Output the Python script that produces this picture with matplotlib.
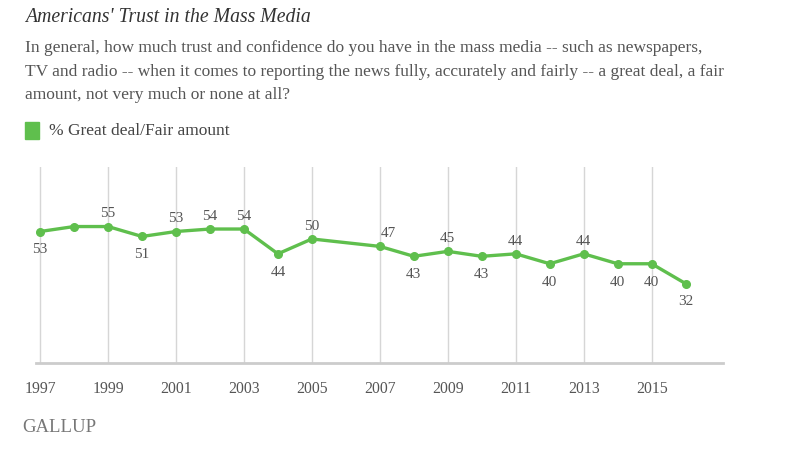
import matplotlib
matplotlib.use("Agg")
import matplotlib.pyplot as plt
from matplotlib.patches import Rectangle

years = [1997, 1998, 1999, 2000, 2001, 2002, 2003, 2004, 2005, 2007,
         2008, 2009, 2010, 2011, 2012, 2013, 2014, 2015, 2016]
values = [53, 55, 55, 51, 53, 54, 54, 44, 50, 47,
          43, 45, 43, 44, 40, 44, 40, 40, 32]
# label placement: 'a' above, 'b' below, '' none
label_pos = ['b', '', 'a', 'b', 'a', 'a', 'a', 'b', 'a', 'a',
             'b', 'a', 'b', 'a', 'b', 'a', 'b', 'b', 'b']
tick_years = [1997, 1999, 2001, 2003, 2005, 2007, 2009, 2011, 2013, 2015]

title = "Americans' Trust in the Mass Media"
subtitle = ["In general, how much trust and confidence do you have in the mass media -- such as newspapers,",
            "TV and radio -- when it comes to reporting the news fully, accurately and fairly -- a great deal, a fair",
            "amount, not very much or none at all?"]
legend_label = "% Great deal/Fair amount"

GREEN = "#5fbf4d"
TXT = "#555555"
FONT = ["Liberation Serif", "DejaVu Serif"]
plt.rcParams['font.family'] = FONT

W, H = 800, 451
fig = plt.figure(figsize=(8, 4.51), dpi=100)

def fx(px):
    return px / W

def fy(py):
    return 1 - py / H

ax = fig.add_axes([fx(36), fy(363), fx(723) - fx(36), fy(167) - fy(363)])
ax.set_xlim(1996.88, 2017.1)
ax.set_ylim(0, 79)
for y in tick_years:
    ax.axvline(y, color="#d6d6d6", lw=1, zorder=1)
ax.plot(years, values, color=GREEN, lw=2.4, marker='o', ms=5.5, zorder=3,
        solid_joinstyle='round')
for x, v, p in zip(years, values, label_pos):
    if not p:
        continue
    dy = 4.5 if p == 'a' else -8.5
    dx = 6 if x == 2007 else 0
    ax.annotate(str(v), (x, v), xytext=(dx, dy), textcoords='offset points',
                ha='center', va='bottom' if p == 'a' else 'top',
                fontsize=11, color=TXT)
for s in ['top', 'right', 'left']:
    ax.spines[s].set_visible(False)
ax.spines['bottom'].set_color("#cccccc")
ax.spines['bottom'].set_linewidth(2)
ax.set_yticks([])
ax.set_xticks(tick_years)
ax.set_xticklabels([str(t) for t in tick_years], fontsize=11.3, color=TXT)
ax.tick_params(axis='x', length=0, pad=13)

fig.text(fx(25), fy(17), title, fontsize=14.2, style='italic', color="#333333",
         va='center', ha='left')
for i, line in enumerate(subtitle):
    fig.text(fx(25), fy(48 + 23.5 * i), line, fontsize=12.5, color=TXT,
             va='center', ha='left')
fig.patches.append(Rectangle((fx(25), fy(139)), fx(14), fy(122) - fy(139),
                             transform=fig.transFigure, color=GREEN))
fig.text(fx(49), fy(131), legend_label, fontsize=12.5, color="#444444",
         va='center', ha='left')
fig.text(fx(22), fy(428), "GALLUP", fontsize=13.5, color="#777777",
         va='center', ha='left')

fig.savefig("out.png", dpi=100)
